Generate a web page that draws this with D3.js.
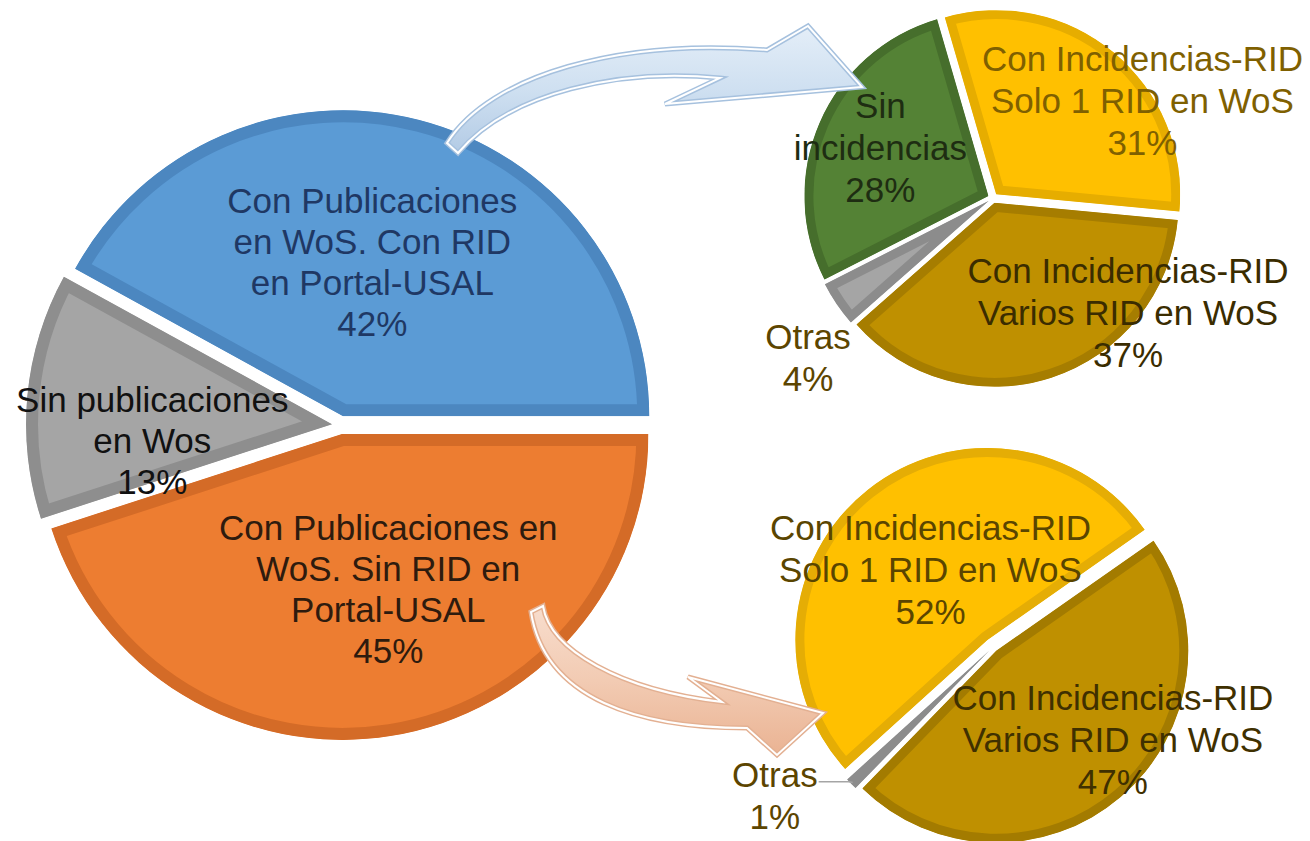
<!DOCTYPE html>
<html>
<head>
<meta charset="utf-8">
<title>Investigadores y RID</title>
<script src="https://cdn.jsdelivr.net/npm/d3@7"></script>
<style>
  body { margin: 0; background: #fff; }
  text { font-family: "Liberation Sans", Arial, sans-serif; }
</style>
</head>
<body>
<script>

// --- data ---
// main pie
var mainLabels = [["Con Publicaciones", "en WoS. Con RID", "en Portal-USAL"],
                  ["Sin publicaciones", "en Wos"],
                  ["Con Publicaciones en", "WoS. Sin RID en", "Portal-USAL"]];
var mainValues = [42, 13, 45];
// detail of "Con RID en Portal-USAL"
var ridLabels = [["Sin", "incidencias"],
                 ["Con Incidencias-RID", "Solo 1 RID en WoS"],
                 ["Con Incidencias-RID", "Varios RID en WoS"],
                 ["Otras"]];
var ridValues = [28, 31, 37, 4];
// detail of "Sin RID en Portal-USAL"
var noRidLabels = [["Con Incidencias-RID", "Solo 1 RID en WoS"],
                   ["Con Incidencias-RID", "Varios RID en WoS"],
                   ["Otras"]];
var noRidValues = [52, 47, 1];

// --- layout ---
var pies = [
  { values: mainValues, labels: mainLabels, cx: 341, cy: 425, r: 306, start: 90, dir: -1,
    explode: [9, 9, 9], border: 12, lh: 41,
    fills: ['#5B9BD5', '#A5A5A5', '#ED7D31'], borders: ['#4C87C0', '#8E8E8E', '#D46B27'],
    text: ['#1F3864', '#111111', '#2E1B0E'],
    labelK: [0.5, 0.59, 0.52], nudge: [[-9, -6], [0, 34], [21, -2]] },
  { values: ridValues, labels: ridLabels, cx: 993, cy: 198, r: 184, start: -117, dir: 1,
    explode: [5, 5, 5, 5], border: 9, lh: 42,
    fills: ['#548235', '#FFC000', '#BF9000', '#A5A5A5'], borders: ['#466E2C', '#E6AD00', '#A67D00', '#8C8C8C'],
    text: ['#1E2D12', '#7F6000', '#3A2C00', '#5C4500'],
    labelK: [0.64, 0.94, 0.94, 1.3], nudge: [[0, -1], [36, 40], [80, -55], [17, 22]] },
  { values: noRidValues, labels: noRidLabels, cx: 993, cy: 647, r: 192, start: -132.2, dir: 1,
    explode: [9, 5, 5], border: 9, lh: 42,
    fills: ['#FFC000', '#BF9000', '#A5A5A5'], borders: ['#E5AD05', '#A37B00', '#8C8C8C'],
    text: ['#5A4500', '#3F3000', '#5C4500'],
    labelK: [0.6, 0.6, 1.3], nudge: [[15, 20], [42, 1], [-35, -28]], leader: 2 }
];

// connector arrows (outline, fill gradient)
var arrows = [
  { d: 'M447,143 C490,75 620,38 767,50 L808,26 L862,87 L665,104 L720,78 C620,68 510,92 458,153 Z',
    stops: ['#E4EEF8', '#CFE0F1', '#B3CBE5'], stroke: '#A6C1DE' },
  { d: 'M543,606 C550,650 620,690 722,702 L688,677 L823,713 L777,755 L747,728 C640,728 545,700 531,612 Z',
    stops: ['#F8DDCD', '#F2CBB3', '#EAB393'], stroke: '#E3B092' }
];

var width = 1310, height = 841;
var rad = Math.PI / 180;
var svg = d3.select('body').append('svg').attr('width', width).attr('height', height);
var defs = svg.append('defs');
var labelLayer = [];

pies.forEach(function (p, pi) {
  var pie = d3.pie().sort(null)
    .startAngle(p.start * rad)
    .endAngle((p.start + p.dir * 360) * rad);
  var arcs = pie(p.values);
  var arc = d3.arc().innerRadius(0).outerRadius(p.r);
  var g = svg.append('g').attr('transform', 'translate(' + p.cx + ',' + p.cy + ')');

  var slices = g.selectAll('g.slice').data(arcs).enter().append('g')
    .attr('class', 'slice')
    .attr('transform', function (d, i) {
      var m = (d.startAngle + d.endAngle) / 2;
      return 'translate(' + (Math.sin(m) * p.explode[i]) + ',' + (-Math.cos(m) * p.explode[i]) + ')';
    });

  slices.each(function (d, i) {
    var id = 'clip' + pi + '_' + i;
    defs.append('clipPath').attr('id', id).append('path').attr('d', arc(d));
    d3.select(this).append('path')
      .attr('d', arc(d))
      .attr('fill', p.fills[i])
      .attr('stroke', p.borders[i])
      .attr('stroke-width', p.border * 2)
      .attr('clip-path', 'url(#' + id + ')');
  });

  arcs.forEach(function (d, i) {
    var m = (d.startAngle + d.endAngle) / 2;
    var ex = Math.sin(m) * p.explode[i], ey = -Math.cos(m) * p.explode[i];
    var lx = p.cx + ex + Math.sin(m) * p.r * p.labelK[i] + p.nudge[i][0];
    var ly = p.cy + ey - Math.cos(m) * p.r * p.labelK[i] + p.nudge[i][1];
    var outer = [p.cx + ex + Math.sin(m) * p.r * 0.99, p.cy + ey - Math.cos(m) * p.r * 0.99];
    labelLayer.push({ lines: p.labels[i].concat([p.values[i] + '%']), x: lx, y: ly, lh: p.lh,
                      color: p.text[i], leader: p.leader === i ? outer : null });
  });
});

// arrows
arrows.forEach(function (a, i) {
  var grad = defs.append('linearGradient').attr('id', 'arrowGrad' + i)
    .attr('x1', 0).attr('y1', 0).attr('x2', 0).attr('y2', 1);
  a.stops.forEach(function (c, k) {
    grad.append('stop').attr('offset', (k / (a.stops.length - 1) * 100) + '%').attr('stop-color', c);
  });
  svg.append('path').attr('d', a.d)
    .attr('fill', 'url(#arrowGrad' + i + ')')
    .attr('stroke', a.stroke).attr('stroke-width', 5).attr('stroke-linejoin', 'miter');
  svg.append('path').attr('d', a.d)
    .attr('fill', 'none')
    .attr('stroke', '#ffffff').attr('stroke-width', 2).attr('stroke-linejoin', 'miter');
});

// labels
labelLayer.forEach(function (L) {
  var n = L.lines.length;
  var t = svg.append('text')
    .attr('text-anchor', 'middle')
    .attr('font-size', '35px')
    .attr('fill', L.color);
  L.lines.forEach(function (s, k) {
    t.append('tspan')
      .attr('x', L.x)
      .attr('y', L.y + (k - (n - 1) / 2) * L.lh)
      .attr('dy', '0.35em')
      .text(s);
  });
  if (L.leader) {
    var first = t.select('tspan').node();
    var w = first.getComputedTextLength();
    var y0 = L.y - (n - 1) / 2 * L.lh + 7;
    var x0 = L.x + w / 2 + 1;
    svg.append('path')
      .attr('d', 'M' + x0 + ',' + y0 + 'L' + (L.leader[0] - 4) + ',' + y0 + 'L' + L.leader[0] + ',' + L.leader[1])
      .attr('fill', 'none').attr('stroke', '#A5A5A5').attr('stroke-width', 1.5);
  }
});

</script>
</body>
</html>
